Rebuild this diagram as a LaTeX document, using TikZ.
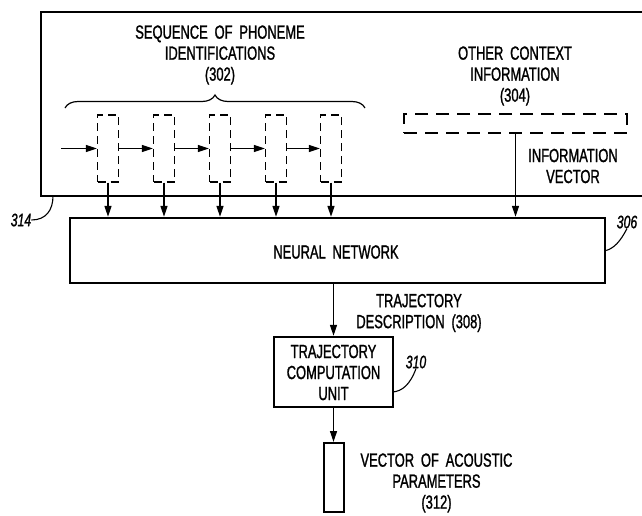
\documentclass[tikz,border=0pt]{standalone}
\usepackage{fontspec}
\setmainfont{Liberation Sans}[FakeStretch=0.68, WordSpace=1.9, FakeBold=1.2]
\usetikzlibrary{arrows.meta,decorations.pathreplacing}
\begin{document}
\begin{tikzpicture}[x=1pt,y=-1pt,
  lbl/.style={font=\fontsize{19}{21}\selectfont, align=center, inner sep=0pt},
  ref/.style={font=\fontsize{18}{20}\selectfont\itshape, inner sep=0pt},
  solidbox/.style={draw, line width=2.4pt, inner sep=0pt},
  dbox/.style={draw, line width=1.3pt, dash pattern=on 8pt off 5pt, inner sep=0pt},
  conn/.style={line width=1.2pt},
  arr/.style={conn, -{Triangle[length=11pt,width=7pt]}},
  leader/.style={line width=1.1pt}]
\useasboundingbox (0,0) rectangle (642,515);

% outer box 314
\draw[line width=2pt] (642,12) -- (41,12) -- (41,196) -- (642,196);

% labels top
\node[lbl] (seq) at (220,55) {SEQUENCE OF PHONEME\\IDENTIFICATIONS\\(302)};
\node[lbl] (oth) at (515,76) {OTHER CONTEXT\\INFORMATION\\(304)};

% brace
\draw[line width=1.2pt, decorate, decoration={brace, amplitude=13pt}] (65,108) -- (365,108);

% phoneme boxes
\foreach \i/\x in {1/108,2/164,3/220,4/276,5/331}{
  \node[dbox, minimum width=21pt, minimum height=67pt] (p\i) at (\x,148.5) {};
}
\coordinate (start) at (61,148.5);
\draw[arr] (start) -- (p1.west);
\draw[arr] (p1.east) -- (p2.west);
\draw[arr] (p2.east) -- (p3.west);
\draw[arr] (p3.east) -- (p4.west);
\draw[arr] (p4.east) -- (p5.west);

% other context box
\node[dbox, dash pattern=on 13pt off 8pt, minimum width=223pt, minimum height=19pt] (oc) at (515.5,123.5) {};
\node[lbl] (iv) at (573,166) {INFORMATION\\VECTOR};

% neural network
\node[solidbox, minimum width=535pt, minimum height=65pt] (nn) at (337.5,250.5) {};
\node[lbl] (nnt) at (336,252) {NEURAL NETWORK};

\foreach \i in {1,...,5}{
  \draw[arr] (p\i.south) -- (p\i.south |- nn.north);
}
\draw[arr] (oc.south) -- (oc.south |- nn.north);

% reference labels
\node[ref] (r314) at (21,220) {314};
\draw[leader] (r314.east) .. controls (46,220) and (53,210) .. (53,196);
\node[ref] (r306) at (627,222) {306};
\draw[leader] (r306.south) .. controls (620,242) and (614,248) .. (nn.east);

% trajectory
\node[lbl] (td) at (419,313) {TRAJECTORY\\DESCRIPTION (308)};
\node[solidbox, minimum width=119pt, minimum height=70pt] (tcu) at (333.5,372) {};
\node[lbl] (tcut) at (333.5,372.5) {TRAJECTORY\\COMPUTATION\\UNIT};
\draw[arr] (nn.south -| tcu.north) -- (tcu.north);

\node[ref] (r310) at (416,362) {310};
\coordinate (l310) at (393,392);
\draw[leader] (r310.south) .. controls (410,385) and (402,391) .. (l310);

% acoustic vector
\node[solidbox, line width=2pt, minimum width=20pt, minimum height=69pt] (av) at (333.5,477.5) {};
\draw[arr] (tcu.south) -- (av.north);
\node[lbl] (avt) at (436.5,483) {VECTOR OF ACOUSTIC\\PARAMETERS\\(312)};
\end{tikzpicture}
\end{document}
